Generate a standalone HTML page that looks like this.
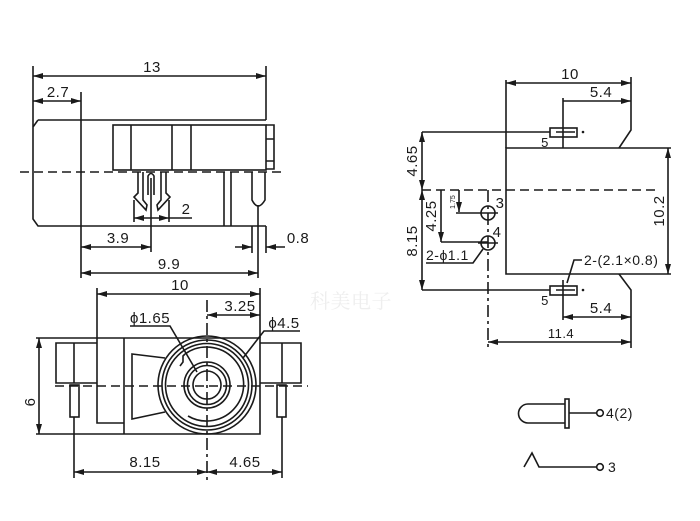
<!DOCTYPE html>
<html><head><meta charset="utf-8"><style>
html,body{margin:0;padding:0;background:#fff}
svg{display:block}
text{font-family:"Liberation Sans",Arial,sans-serif;font-size:15px;fill:#1a1a1a;letter-spacing:0.5px}
</style></head><body>
<svg width="700" height="521" viewBox="0 0 700 521" xmlns="http://www.w3.org/2000/svg">
<defs>
<marker id="a" viewBox="0 0 10 6" refX="10" refY="3" markerWidth="10" markerHeight="6" orient="auto-start-reverse" markerUnits="userSpaceOnUse"><path d="M0,0 L10,3 L0,6 z" fill="#1a1a1a"/></marker>
</defs>
<text x="310" y="308" style="font-size:20px;fill:#eee;font-family:'Liberation Serif','Noto Serif CJK SC',serif">科美电子</text>
<g stroke="#1a1a1a" stroke-width="1.6" fill="none">
<line x1="33" y1="66" x2="33" y2="127"/>
<line x1="266" y1="66" x2="266" y2="120"/>
<line x1="33" y1="76" x2="266" y2="76" marker-start="url(#a)" marker-end="url(#a)"/>
<line x1="81" y1="92" x2="81" y2="120"/>
<line x1="33" y1="101" x2="81" y2="101" marker-start="url(#a)" marker-end="url(#a)"/>
<path d="M38,120 L266,120 M33,127 L38,120 M33,127 L33,219 L38,226 L266,226 M81,120 L81,278"/>
<rect x="113" y="125" width="153" height="45"/>
<path d="M131,125 V170 M172,125 V170 M191,125 V170"/>
<path d="M266,125 H274 V169 H266 M266,139 H274 M266,161 H274"/>
<line x1="20" y1="172" x2="282" y2="172" stroke-dasharray="9,5"/>
<path d="M138,172 V193 L134,197 L146,210 L147,205 L143,200 V172"/>
<path d="M166,172 V193 L170,197 L158,210 L157,205 L161,200 V172"/>
<path d="M148,195 V176 Q151,171 154,176 V195"/>
<line x1="151" y1="178" x2="151" y2="252"/>
<path d="M224,172 V226 M231,172 V226"/>
<path d="M252,172 V200 Q258,212 265,200 V172"/>
<line x1="258" y1="205" x2="258" y2="278"/>
<path d="M134,200 V222 M169,200 V222"/>
<line x1="134" y1="218" x2="169" y2="218" marker-start="url(#a)" marker-end="url(#a)"/>
<line x1="169" y1="218" x2="192" y2="218"/>
<line x1="81" y1="247" x2="151" y2="247" marker-start="url(#a)" marker-end="url(#a)"/>
<path d="M252,226 V253 M266,226 V253"/>
<line x1="235" y1="247" x2="252" y2="247" marker-end="url(#a)"/>
<line x1="285" y1="247" x2="266" y2="247" marker-end="url(#a)"/>
<line x1="81" y1="273" x2="258" y2="273" marker-start="url(#a)" marker-end="url(#a)"/>
<path d="M97,288 V338 M260,288 V338"/>
<line x1="97" y1="294" x2="260" y2="294" marker-start="url(#a)" marker-end="url(#a)"/>
<line x1="207" y1="315" x2="260" y2="315" marker-start="url(#a)" marker-end="url(#a)"/>
<line x1="207" y1="300" x2="207" y2="480" stroke-dasharray="12,4,3,4"/>
<path d="M36,338 H260 V434 H36"/>
<line x1="124" y1="338" x2="124" y2="434"/>
<path d="M124,423 H97 V338"/>
<path d="M97,343 H56 V383 H97 M260,343 H301 V383 H260"/>
<rect x="70" y="385" width="9" height="32"/>
<rect x="277" y="385" width="9" height="32"/>
<path d="M74,383 V343 M282,383 V343"/>
<path d="M165,358 L132,354 V419 L165,412"/>
<line x1="39" y1="338" x2="39" y2="434" marker-start="url(#a)" marker-end="url(#a)"/>
<circle cx="207" cy="385" r="49"/>
<circle cx="207" cy="385" r="45"/>
<circle cx="207" cy="385" r="41.5"/>
<path d="M185,354 A37,37 0 1 1 188,416"/>
<path d="M185,354 L183,356 V362 L180,366"/>
<circle cx="207" cy="385" r="23"/>
<circle cx="207" cy="385" r="19.5"/>
<circle cx="207" cy="385" r="14"/>
<line x1="55" y1="386" x2="308" y2="386" stroke-dasharray="9,5"/>
<path d="M130,326 H170 L197,372"/>
<path d="M300,331 H264 L243,358"/>
<path d="M74,417 V478 M282,417 V478"/>
<line x1="74" y1="472" x2="207" y2="472" marker-start="url(#a)" marker-end="url(#a)"/>
<line x1="207" y1="472" x2="282" y2="472" marker-start="url(#a)" marker-end="url(#a)"/>
<path d="M506,80 V148 M631,77 V130 L619,148"/>
<line x1="506" y1="83" x2="631" y2="83" marker-start="url(#a)" marker-end="url(#a)"/>
<line x1="563" y1="101" x2="631" y2="101" marker-end="url(#a)"/>
<line x1="563" y1="98" x2="563" y2="148"/>
<path d="M671,148 H506 V274 H671"/>
<line x1="668" y1="148" x2="668" y2="274" marker-start="url(#a)" marker-end="url(#a)"/>
<line x1="422" y1="190" x2="656" y2="190" stroke-dasharray="9,5"/>
<line x1="422" y1="132" x2="550" y2="132"/>
<rect x="550" y="128" width="27" height="9"/>
<path d="M556,132 H575"/>
<line x1="422" y1="290" x2="550" y2="290"/>
<rect x="550" y="286" width="27" height="9"/>
<path d="M556,290 H575 M563,280 V300"/>
<path d="M619,274 L631,290 V312"/>
<line x1="563" y1="300" x2="563" y2="320"/>
<line x1="563" y1="317" x2="631" y2="317" marker-start="url(#a)" marker-end="url(#a)"/>
<line x1="631" y1="312" x2="631" y2="348"/>
<line x1="488" y1="342" x2="631" y2="342" marker-start="url(#a)" marker-end="url(#a)"/>
<line x1="488" y1="190" x2="488" y2="350" stroke-dasharray="12,4,3,4"/>
<line x1="422" y1="132" x2="422" y2="190" marker-start="url(#a)" marker-end="url(#a)"/>
<line x1="422" y1="190" x2="422" y2="290" marker-start="url(#a)" marker-end="url(#a)"/>
<line x1="441" y1="190" x2="441" y2="242" marker-end="url(#a)"/>
<line x1="441" y1="242" x2="488" y2="242"/>
<line x1="459" y1="190" x2="459" y2="212" marker-end="url(#a)"/>
<line x1="456" y1="213" x2="498" y2="213"/>
<line x1="478" y1="243" x2="498" y2="243"/>
<circle cx="488" cy="213" r="7"/>
<circle cx="488" cy="243" r="7"/>
<path d="M426,263 H473 L483,249"/>
<path d="M582,260 H574 L567,283"/>
<path d="M565,404 H528 A9.5,9.5 0 0 0 528,423 H565"/>
<rect x="565" y="399" width="4" height="29"/>
<line x1="569" y1="413" x2="597" y2="413"/>
<circle cx="600" cy="413" r="3.3"/>
<path d="M524,467 L532,453 L539,467 H597"/>
<circle cx="600" cy="467" r="3.3"/>
</g>
<circle cx="583" cy="132" r="1.3" fill="#1a1a1a"/>
<circle cx="583" cy="290" r="1.3" fill="#1a1a1a"/>
<text x="152" y="72" text-anchor="middle">13</text>
<text x="58" y="97" text-anchor="middle">2.7</text>
<text x="186" y="214" text-anchor="middle">2</text>
<text x="118" y="243" text-anchor="middle">3.9</text>
<text x="298" y="243" text-anchor="middle">0.8</text>
<text x="169" y="269" text-anchor="middle">9.9</text>
<text x="180" y="290" text-anchor="middle">10</text>
<text x="240" y="311" text-anchor="middle">3.25</text>
<text x="150" y="323" text-anchor="middle">ϕ1.65</text>
<text x="284" y="328" text-anchor="middle">ϕ4.5</text>
<text x="35" y="402" text-anchor="middle" transform="rotate(-90 35 402)">6</text>
<text x="145" y="467" text-anchor="middle">8.15</text>
<text x="245" y="467" text-anchor="middle">4.65</text>
<text x="570" y="79" text-anchor="middle">10</text>
<text x="601" y="97" text-anchor="middle">5.4</text>
<text x="545" y="147" text-anchor="middle" style="font-size:13px">5</text>
<text x="545" y="305" text-anchor="middle" style="font-size:13px">5</text>
<text x="601" y="313" text-anchor="middle">5.4</text>
<text x="561" y="338" text-anchor="middle" style="font-size:13px">11.4</text>
<text x="417" y="161" text-anchor="middle" transform="rotate(-90 417 161)">4.65</text>
<text x="417" y="241" text-anchor="middle" transform="rotate(-90 417 241)">8.15</text>
<text x="436" y="216" text-anchor="middle" transform="rotate(-90 436 216)">4.25</text>
<text x="455" y="202" text-anchor="middle" style="font-size:7px;letter-spacing:0" transform="rotate(-90 455 202)">1.75</text>
<text x="664" y="211" text-anchor="middle" transform="rotate(-90 664 211)">10.2</text>
<text x="500" y="208" text-anchor="middle">3</text>
<text x="497" y="237" text-anchor="middle">4</text>
<text x="426" y="260" style="font-size:14px">2-ϕ1.1</text>
<text x="584" y="265" style="font-size:14px">2-(2.1×0.8)</text>
<text x="606" y="418" style="font-size:14px">4(2)</text>
<text x="608" y="472" style="font-size:14px">3</text>
</svg>
</body></html>
